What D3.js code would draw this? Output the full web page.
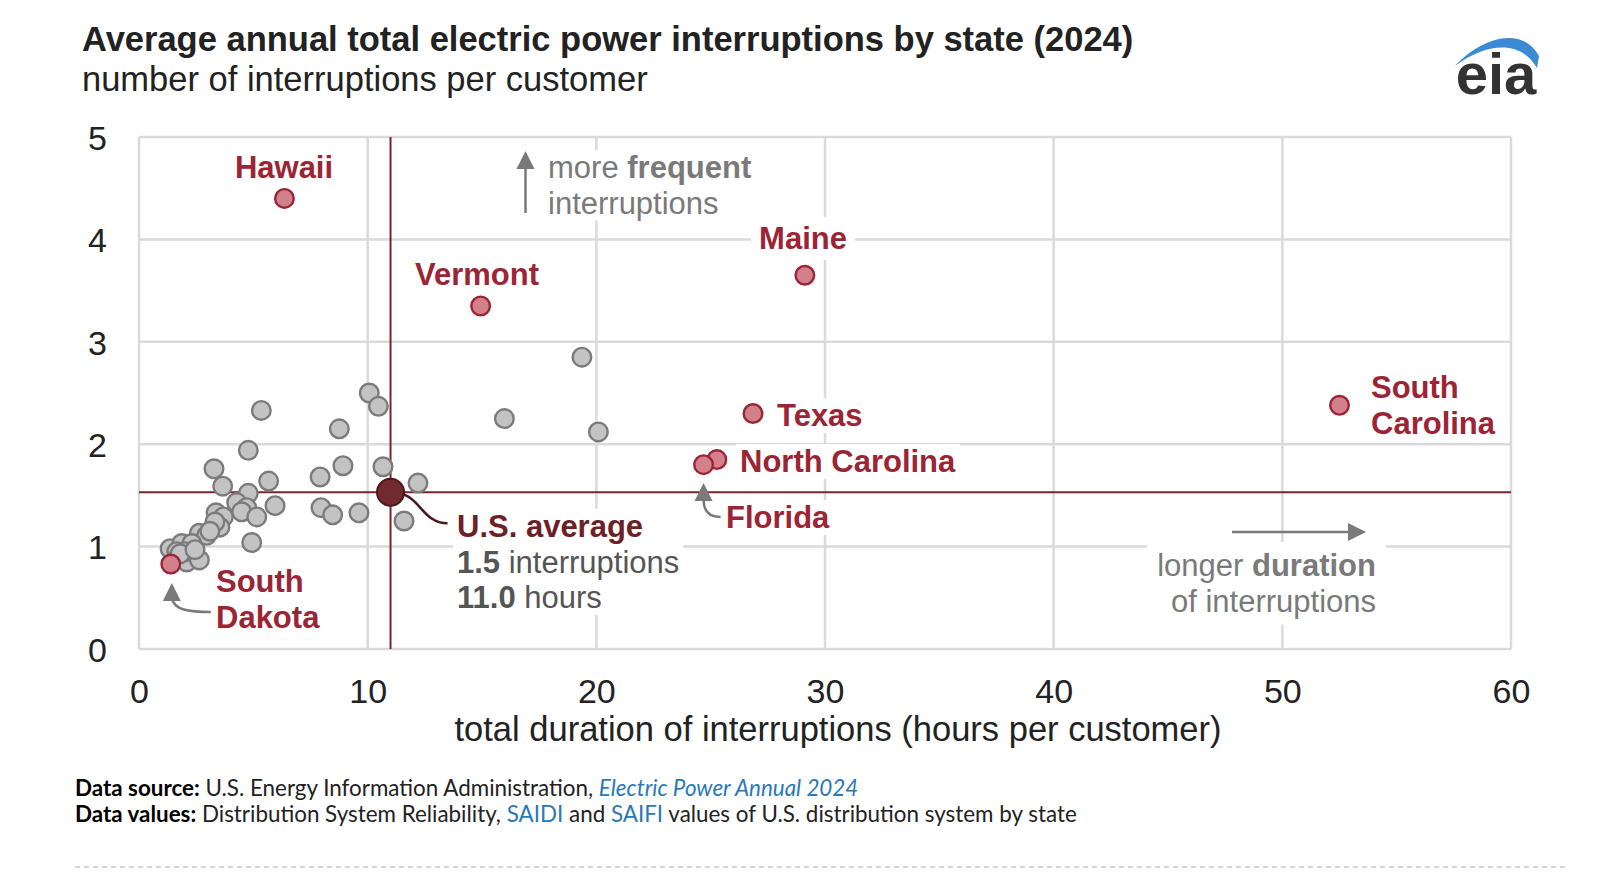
<!DOCTYPE html>
<html>
<head>
<meta charset="utf-8">
<script src="https://cdn.jsdelivr.net/npm/d3@7"></script>
<style>
  html, body { margin: 0; padding: 0; background: #fff; }
  svg { display: block; }
</style>
</head>
<body>
<svg id="chart" width="1600" height="890"></svg>
<script>
// ---------------- DATA ----------------
const xTicks = [0, 10, 20, 30, 40, 50, 60];
const yTicks = [0, 1, 2, 3, 4, 5];

// gray (non-highlighted) states: SAIDI hours, SAIFI interruptions
const grayHours = [10.07, 10.47, 8.76, 5.35, 4.78, 3.28, 3.66, 8.92, 7.92, 10.67, 12.2, 5.67, 4.78, 4.27, 4.71,
  4.49, 5.15, 5.95, 7.96, 8.47, 9.62, 11.59, 4.93, 3.37, 3.69, 3.54, 3.32, 2.64, 2.96, 1.36, 1.87, 2.31,
  1.65, 1.72, 2.09, 2.64, 19.37, 15.98, 20.09, 3.1, 2.0, 1.8, 2.45];
const grayInterruptions = [2.50, 2.37, 2.15, 2.33, 1.94, 1.76, 1.59, 1.79, 1.68, 1.78, 1.62, 1.64, 1.52, 1.43, 1.38,
  1.34, 1.29, 1.40, 1.38, 1.31, 1.33, 1.25, 1.04, 1.33, 1.29, 1.19, 1.24, 1.13, 1.11, 0.98, 1.03, 1.03,
  0.95, 0.90, 0.85, 0.87, 2.85, 2.25, 2.12, 1.15, 0.95, 0.93, 0.97];

const highlightStates = ["Hawaii", "Vermont", "Maine", "Texas", "North Carolina", "Florida", "South Carolina", "South Dakota"];
const highlightHours = [6.36, 14.94, 29.12, 26.85, 25.27, 24.69, 52.5, 1.39];
const highlightInterruptions = [4.40, 3.35, 3.65, 2.30, 1.85, 1.80, 2.38, 0.83];

const usAvgHours = 11.0;
const usAvgInterruptions = 1.53;

// ---------------- SETUP ----------------
const svg = d3.select("#chart");
const FONT = "'Liberation Sans', Arial, Helvetica, sans-serif";
const RED = "#9b2535";
const MAROON = "#6e1f27";
const GRAYTXT = "#7a7a7a";

const x = d3.scaleLinear().domain([0, 60]).range([139, 1511]);
const y = d3.scaleLinear().domain([0, 5]).range([649, 137]);

// Title
svg.append("text").attr("x", 82).attr("y", 51)
  .attr("font-family", FONT).attr("font-weight", "bold").attr("font-size", 34.5).attr("fill", "#222")
  .text("Average annual total electric power interruptions by state (2024)");
svg.append("text").attr("x", 82).attr("y", 91)
  .attr("font-family", FONT).attr("font-size", 34.5).attr("fill", "#222")
  .text("number of interruptions per customer");

// EIA logo
const logo = svg.append("g");
logo.append("path")
  .attr("d", "M1455,66 C1476,42 1520,22 1539,56 L1537,68 C1520,38 1484,44 1455,66 Z")
  .attr("fill", "#3b8ad6");
logo.append("text").attr("x", 1496).attr("y", 94).attr("text-anchor", "middle")
  .attr("font-family", FONT).attr("font-weight", "bold").attr("font-size", 58).attr("fill", "#333")
  .text("eia");

// Grid
const grid = svg.append("g");
grid.selectAll("line.gx").data(xTicks).join("line")
  .attr("x1", d => x(d)).attr("x2", d => x(d)).attr("y1", y(0)).attr("y2", y(5))
  .attr("stroke", "#dadada").attr("stroke-width", 2.5);
grid.selectAll("line.gy").data(yTicks).join("line")
  .attr("y1", d => y(d)).attr("y2", d => y(d)).attr("x1", x(0)).attr("x2", x(60))
  .attr("stroke", "#dadada").attr("stroke-width", 2.5);

// Axes (labels only)
const xAxis = svg.append("g").attr("transform", `translate(0,${y(0)})`)
  .call(d3.axisBottom(x).tickValues(xTicks).tickFormat(d3.format("d")).tickSize(0).tickPadding(30));
const yAxis = svg.append("g").attr("transform", `translate(${x(0)},0)`)
  .call(d3.axisLeft(y).tickValues(yTicks).tickFormat(d3.format("d")).tickSize(0).tickPadding(32));
[xAxis, yAxis].forEach(a => {
  a.select(".domain").remove();
  a.selectAll("text").attr("font-family", FONT).attr("font-size", 34).attr("fill", "#222");
});
yAxis.selectAll("text").attr("dy", "0.36em");
xAxis.selectAll("text").attr("dy", "0.71em");

svg.append("text").attr("x", 838).attr("y", 741).attr("text-anchor", "middle")
  .attr("font-family", FONT).attr("font-size", 34.5).attr("fill", "#222")
  .text("total duration of interruptions (hours per customer)");

// Layers
const maskLayer = svg.append("g");
const lineLayer = svg.append("g");
const pointLayer = svg.append("g");
const labelLayer = svg.append("g");

function addLabel(lines, ax, ay, anchor, fill, opts = {}) {
  const g = labelLayer.append("g");
  lines.forEach((ln, i) => {
    const t = g.append("text").attr("x", ax).attr("y", ay + i * 35.5)
      .attr("text-anchor", anchor).attr("font-family", FONT).attr("font-size", opts.size || 31)
      .attr("fill", fill);
    ln.forEach(seg => {
      t.append("tspan").attr("font-weight", seg[1] ? "bold" : "normal")
        .attr("fill", seg[2] || fill).text(seg[0]);
    });
  });
  const bb = g.node().getBBox();
  const p = opts.pad == null ? 4 : opts.pad;
  maskLayer.append("rect").attr("x", bb.x - p).attr("y", bb.y - p + 4)
    .attr("width", bb.width + 2 * p).attr("height", bb.height + 2 * p - 8).attr("fill", "#fff");
  return g;
}

// Average lines
lineLayer.append("line").attr("x1", x(usAvgHours)).attr("x2", x(usAvgHours)).attr("y1", y(0)).attr("y2", y(5))
  .attr("stroke", "#7a252d").attr("stroke-width", 2);
lineLayer.append("line").attr("y1", y(usAvgInterruptions)).attr("y2", y(usAvgInterruptions)).attr("x1", x(0)).attr("x2", x(60))
  .attr("stroke", "#7a252d").attr("stroke-width", 2);

// Points
const grayData = grayHours.map((h, i) => ({ h, v: grayInterruptions[i] }));
pointLayer.selectAll("circle.g").data(grayData).join("circle")
  .attr("cx", d => x(d.h)).attr("cy", d => y(d.v)).attr("r", 9.3)
  .attr("fill", "#c3c3c3").attr("stroke", "#7b7b7b").attr("stroke-width", 2.4);

const hiData = highlightStates.map((s, i) => ({ s, h: highlightHours[i], v: highlightInterruptions[i] }));
pointLayer.selectAll("circle.h").data(hiData).join("circle")
  .attr("cx", d => x(d.h)).attr("cy", d => y(d.v)).attr("r", 9.3)
  .attr("fill", "#d2808a").attr("stroke", "#9b2535").attr("stroke-width", 2.4);

pointLayer.append("circle").attr("cx", x(usAvgHours)).attr("cy", y(usAvgInterruptions)).attr("r", 13.5)
  .attr("fill", "#722a31").attr("stroke", "#4a171c").attr("stroke-width", 2);

// Leader for US average
lineLayer.append("path")
  .attr("d", `M${x(usAvgHours) + 8},${y(usAvgInterruptions) + 1} C${x(usAvgHours) + 30},${y(usAvgInterruptions) + 4} ${x(usAvgHours) + 32},${y(usAvgInterruptions) + 31} ${x(usAvgHours) + 57},${y(usAvgInterruptions) + 31}`)
  .attr("fill", "none").attr("stroke", "#4a171c").attr("stroke-width", 2.5);

// State labels
addLabel([[["Hawaii", true]]], 284, 178, "middle", RED);
addLabel([[["Vermont", true]]], 477, 285, "middle", RED);
addLabel([[["Maine", true]]], 803, 249, "middle", RED, { pad: 8 });
addLabel([[["Texas", true]]], 777, 426, "start", RED);
addLabel([[["North Carolina", true]]], 740, 472, "start", RED);
addLabel([[["Florida", true]]], 726, 528, "start", RED);
addLabel([[["South", true]], [["Carolina", true]]], 1371, 398, "start", RED);
addLabel([[["South", true]], [["Dakota", true]]], 216, 592, "start", RED);

addLabel([[["U.S. average", true, MAROON]], [["1.5", true, "#555"], [" interruptions", false, "#555"]],
  [["11.0", true, "#555"], [" hours", false, "#555"]]], 457, 537, "start", "#555");

addLabel([[["more ", false], ["frequent", true]], [["interruptions", false]]], 548, 178, "start", GRAYTXT);
addLabel([[["longer ", false], ["duration", true]], [["of interruptions", false]]], 1376, 576, "end", GRAYTXT, { pad: 10 });

// Arrows
function arrow(d) {
  labelLayer.append("path").attr("d", d).attr("fill", "none").attr("stroke", GRAYTXT).attr("stroke-width", 2.5);
}
function head(tx, ty, angleDeg) {
  labelLayer.append("path").attr("d", "M0,0 L-18,-9 L-18,9 Z")
    .attr("transform", `translate(${tx},${ty}) rotate(${angleDeg})`).attr("fill", GRAYTXT);
}
// more frequent (up)
arrow("M525.5,213 L525.5,165");
head(525.5, 151, -90);
// longer duration (right)
arrow("M1232,532 L1350,532");
head(1366, 532, 0);
// Florida
arrow(`M${x(24.69)},500 C${x(24.69)},512 ${x(24.69) + 6},517 ${x(24.69) + 17},517`);
head(x(24.69), 483, -90);
// South Dakota
arrow(`M${x(1.39) + 1},598 C${x(1.39) + 3},610 ${x(1.39) + 18},612 ${x(1.39) + 40},612`);
head(x(1.39) + 1, 583, -90);

// Footer
const foot = svg.append("g").attr("font-family", "Lato, 'Open Sans', sans-serif").attr("font-size", 22.4).attr("fill", "#222");
const f1 = foot.append("text").attr("x", 75).attr("y", 796);
f1.append("tspan").attr("font-weight", "bold").attr("fill", "#000").text("Data source:");
f1.append("tspan").text(" U.S. Energy Information Administration, ");
f1.append("tspan").attr("font-style", "italic").attr("fill", "#2a78b8").text("Electric Power Annual 2024");
const f2 = foot.append("text").attr("x", 75).attr("y", 822);
f2.append("tspan").attr("font-weight", "bold").attr("fill", "#000").text("Data values:");
f2.append("tspan").text(" Distribution System Reliability, ");
f2.append("tspan").attr("fill", "#2a78b8").text("SAIDI");
f2.append("tspan").text(" and ");
f2.append("tspan").attr("fill", "#2a78b8").text("SAIFI");
f2.append("tspan").text(" values of U.S. distribution system by state");

svg.append("line").attr("x1", 75).attr("x2", 1565).attr("y1", 867).attr("y2", 867)
  .attr("stroke", "#c8c8c8").attr("stroke-width", 1.5).attr("stroke-dasharray", "5,4");
</script>
</body>
</html>
